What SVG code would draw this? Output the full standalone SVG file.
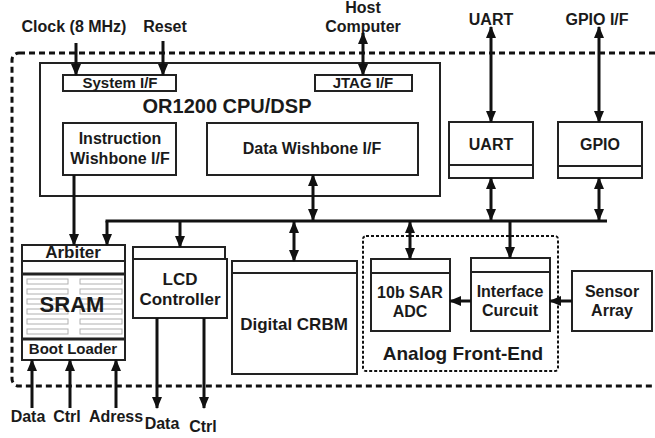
<svg xmlns="http://www.w3.org/2000/svg" width="655" height="438" viewBox="0 0 655 438">
<style>
.b{fill:#fff;stroke:#222;stroke-width:2}
.bt{fill:#fff;stroke:#222;stroke-width:3}
.t{font-family:"Liberation Sans",Arial,sans-serif;font-weight:bold;font-size:16px;fill:#1a1a1a;text-anchor:middle}
.w{stroke:#111;stroke-width:3;fill:none}
.a{marker-end:url(#ah)}
.d{marker-start:url(#ah);marker-end:url(#ah)}
.row{fill:#fff;stroke:#b0b0b0;stroke-width:1}
</style>
<defs>
<marker id="ah" viewBox="0 0 12 10" refX="11" refY="5" markerWidth="12" markerHeight="10" markerUnits="userSpaceOnUse" orient="auto-start-reverse">
<path d="M0,0 L12,5 L0,10 z" fill="#111"/>
</marker>
</defs>
<rect width="655" height="438" fill="#fff"/>
<rect x="12" y="53" width="700" height="333" rx="7" fill="none" stroke="#111" stroke-width="3" stroke-dasharray="6 4"/>

<g id="cpu">
<rect class="b" x="40" y="63" width="400" height="133"/>
<text class="t" x="227" y="113" font-size="20" style="font-size:20px">OR1200 CPU/DSP</text>
</g>
<g id="sysif">
<rect class="b" x="63" y="75" width="113" height="16"/>
<text class="t" x="120" y="88" style="font-size:15px">System I/F</text>
</g>
<g id="jtag">
<rect class="b" x="315" y="75" width="97" height="16"/>
<text class="t" x="363" y="88" style="font-size:15px">JTAG I/F</text>
</g>
<g id="iwb">
<rect class="b" x="63" y="123" width="113" height="52"/>
<text class="t" x="120" y="144">Instruction</text>
<text class="t" x="120" y="164">Wishbone I/F</text>
</g>
<g id="dwb">
<rect class="b" x="207" y="123" width="211" height="52"/>
<text class="t" x="312" y="154">Data Wishbone I/F</text>
</g>
<g id="uart">
<rect class="b" x="449" y="122" width="84" height="56"/>
<line x1="449" y1="165" x2="533" y2="165" stroke="#222" stroke-width="2"/>
<text class="t" x="491" y="150">UART</text>
</g>
<g id="gpio">
<rect class="b" x="558" y="122" width="84" height="56"/>
<line x1="558" y1="166" x2="642" y2="166" stroke="#222" stroke-width="2"/>
<text class="t" x="600" y="150">GPIO</text>
</g>
<g id="sram">
<rect class="b" x="22" y="245" width="103" height="115"/>
<line x1="22" y1="261" x2="125" y2="261" stroke="#222" stroke-width="2"/>
<line x1="22" y1="274" x2="125" y2="274" stroke="#222" stroke-width="3"/>
<line x1="22" y1="339" x2="125" y2="339" stroke="#222" stroke-width="3"/>
<rect class="row" x="27" y="279" width="41" height="5"/><rect class="row" x="80" y="279" width="42" height="5"/>
<rect class="row" x="27" y="289" width="41" height="5"/><rect class="row" x="80" y="289" width="42" height="5"/>
<rect class="row" x="27" y="299" width="41" height="5"/><rect class="row" x="80" y="299" width="42" height="5"/>
<rect class="row" x="27" y="309" width="41" height="5"/><rect class="row" x="80" y="309" width="42" height="5"/>
<rect class="row" x="27" y="319" width="41" height="5"/><rect class="row" x="80" y="319" width="42" height="5"/>
<rect class="row" x="27" y="329" width="41" height="5"/><rect class="row" x="80" y="329" width="42" height="5"/>
<text class="t" x="73" y="258" style="font-size:17px">Arbiter</text>
<text class="t" x="72" y="312" style="font-size:22px">SRAM</text>
<text class="t" x="73" y="354" style="font-size:15px">Boot Loader</text>
</g>
<g id="lcd">
<rect class="b" x="133" y="247" width="92" height="12"/>
<rect class="b" x="133" y="259" width="94" height="59"/>
<text class="t" x="180" y="285" style="font-size:17px">LCD</text>
<text class="t" x="180" y="305" style="font-size:17px">Controller</text>
</g>
<g id="crbm">
<rect class="b" x="232" y="261" width="125" height="12"/>
<rect class="b" x="232" y="273" width="125" height="101"/>
<text class="t" x="294" y="330" style="font-size:17px">Digital CRBM</text>
</g>
<g id="afe">
<rect x="363" y="236" width="195" height="135" rx="3" fill="none" stroke="#111" stroke-width="2" stroke-dasharray="3 2"/>
<text class="t" x="463" y="360" style="font-size:19px">Analog Front-End</text>
</g>
<g id="adc">
<rect class="b" x="371" y="259" width="79" height="14"/>
<rect class="b" x="371" y="273" width="79" height="58"/>
<text class="t" x="410" y="298">10b SAR</text>
<text class="t" x="410" y="317">ADC</text>
</g>
<g id="iface">
<rect class="b" x="471" y="258" width="79" height="14"/>
<rect class="b" x="471" y="272" width="79" height="59"/>
<text class="t" x="510" y="297">Interface</text>
<text class="t" x="510" y="316">Curcuit</text>
</g>
<g id="sensor">
<rect class="b" x="572" y="271" width="80" height="60"/>
<text class="t" x="612" y="297">Sensor</text>
<text class="t" x="612" y="316">Array</text>
</g>

<g id="labels">
<text class="t" x="74" y="32">Clock (8 MHz)</text>
<text class="t" x="165" y="32">Reset</text>
<text class="t" x="363" y="13">Host</text>
<text class="t" x="363" y="32">Computer</text>
<text class="t" x="491" y="25">UART</text>
<text class="t" x="597" y="25">GPIO I/F</text>
<text class="t" x="28" y="422">Data</text>
<text class="t" x="67" y="422">Ctrl</text>
<text class="t" x="116" y="422">Adress</text>
<text class="t" x="162" y="429">Data</text>
<text class="t" x="203" y="432">Ctrl</text>
</g>

<g id="connectors">
<line class="w" x1="105.5" y1="221" x2="607" y2="221"/>
<line class="w a" x1="76" y1="43" x2="76" y2="75"/>
<line class="w a" x1="163" y1="41" x2="163" y2="75"/>
<line class="w d" x1="363" y1="33" x2="363" y2="75"/>
<line class="w d" x1="491" y1="27" x2="491" y2="122"/>
<line class="w d" x1="599" y1="27" x2="599" y2="122"/>
<line class="w d" x1="491" y1="178" x2="491" y2="220"/>
<line class="w d" x1="599" y1="178" x2="599" y2="220"/>
<line class="w d" x1="313" y1="175" x2="313" y2="220"/>
<line class="w a" x1="74" y1="175" x2="74" y2="245"/>
<line class="w a" x1="107" y1="221" x2="107" y2="245"/>
<line class="w a" x1="180" y1="221" x2="180" y2="247"/>
<line class="w d" x1="294" y1="222" x2="294" y2="261"/>
<line class="w d" x1="410" y1="222" x2="410" y2="259"/>
<line class="w a" x1="510" y1="221" x2="510" y2="258"/>
<line class="w a" x1="471" y1="301" x2="450" y2="301"/>
<line class="w a" x1="572" y1="301" x2="550" y2="301"/>
<line class="w a" x1="157" y1="318" x2="157" y2="408"/>
<line class="w a" x1="204" y1="318" x2="204" y2="408"/>
<line class="w a" x1="32" y1="408" x2="32" y2="360"/>
<line class="w a" x1="70" y1="408" x2="70" y2="360"/>
<line class="w a" x1="116" y1="408" x2="116" y2="360"/>
</g>
</svg>
